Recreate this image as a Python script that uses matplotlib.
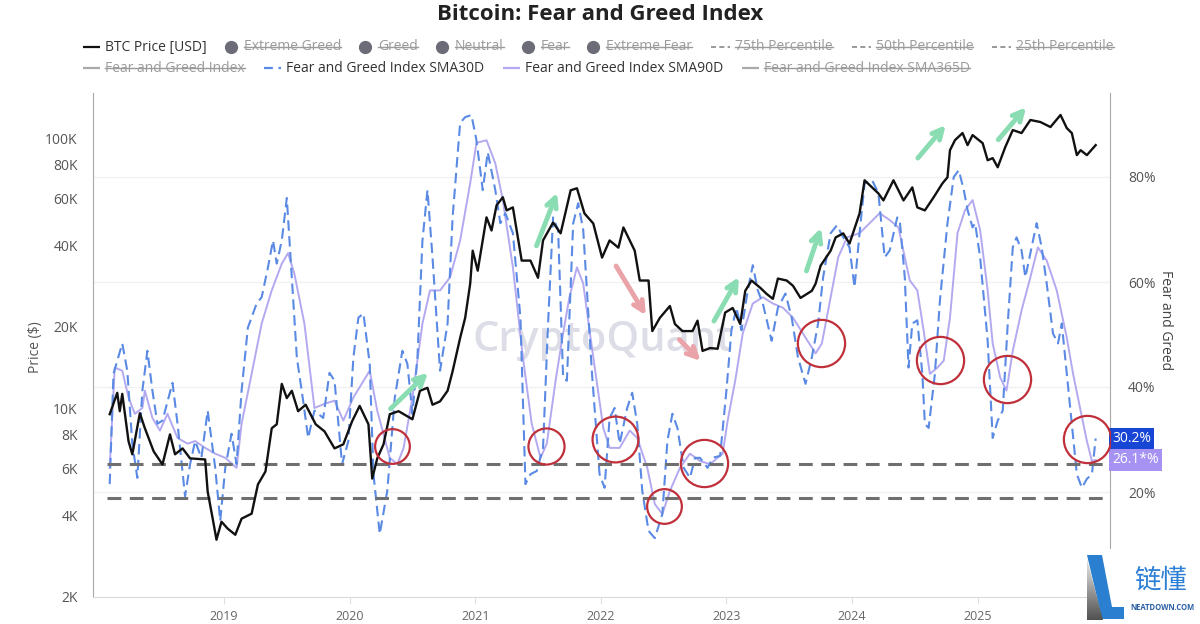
import numpy as np
import matplotlib
matplotlib.use('Agg')
import matplotlib.pyplot as plt
from matplotlib.patches import Polygon, Rectangle
from matplotlib.ticker import NullLocator, FixedLocator, FixedFormatter

plt.rcParams['font.family'] = ['Open Sans', 'DejaVu Sans']

# ---- data (decimal years) ----
btc_t = [2018.09, 2018.15, 2018.17, 2018.19, 2018.24, 2018.27, 2018.33, 2018.37, 2018.44, 2018.51,
         2018.57, 2018.61, 2018.67, 2018.73, 2018.85, 2018.87, 2018.91, 2018.94, 2018.98, 2019.03,
         2019.09, 2019.14, 2019.22, 2019.27, 2019.33, 2019.38, 2019.42, 2019.46, 2019.50, 2019.54,
         2019.59, 2019.65, 2019.73, 2019.80, 2019.88, 2019.95, 2020.02, 2020.08, 2020.15, 2020.18,
         2020.22, 2020.27, 2020.32, 2020.39, 2020.50, 2020.56, 2020.62, 2020.66, 2020.72, 2020.78,
         2020.82, 2020.88, 2020.92, 2020.96, 2020.98, 2021.02, 2021.09, 2021.13, 2021.17, 2021.22,
         2021.25, 2021.30, 2021.37, 2021.44, 2021.50, 2021.54, 2021.62, 2021.68, 2021.76, 2021.81,
         2021.87, 2021.94, 2022.01, 2022.07, 2022.14, 2022.18, 2022.27, 2022.31, 2022.38, 2022.41,
         2022.47, 2022.55, 2022.59, 2022.65, 2022.73, 2022.77, 2022.81, 2022.87, 2022.93, 2022.99,
         2023.05, 2023.11, 2023.15, 2023.20, 2023.27, 2023.32, 2023.37, 2023.41, 2023.48, 2023.53,
         2023.59, 2023.68, 2023.71, 2023.75, 2023.83, 2023.87, 2023.93, 2023.98, 2024.06, 2024.10,
         2024.16, 2024.21, 2024.25, 2024.33, 2024.41, 2024.48, 2024.52, 2024.58, 2024.65, 2024.72,
         2024.76, 2024.78, 2024.82, 2024.88, 2024.92, 2024.96, 2025.04, 2025.08, 2025.12, 2025.16,
         2025.22, 2025.28, 2025.35, 2025.42, 2025.50, 2025.58, 2025.66, 2025.71, 2025.75, 2025.79,
         2025.82, 2025.87, 2025.94]
btc_k = [9.5, 11.4, 9.75, 11.3, 7.54, 6.75, 9.58, 8.43, 6.92, 6.19,
         8.0, 6.75, 7.1, 6.52, 6.46, 4.91, 3.9, 3.26, 3.8, 3.58,
         3.4, 3.9, 4.07, 5.22, 5.83, 8.43, 8.72, 12.3, 10.9, 11.6,
         9.75, 10.3, 8.72, 8.21, 7.1, 7.35, 8.95, 10.2, 8.72, 5.49,
         6.52, 7.35, 9.5, 9.75, 9.1, 11.6, 11.9, 10.3, 10.6, 11.6,
         13.7, 18.2, 21.6, 28.9, 38.3, 32.3, 50.9, 45.5, 56.4, 60.4,
         54.0, 55.4, 35.2, 35.2, 30.4, 41.8, 48.7, 44.4, 64.1, 65.2,
         52.6, 48.3, 36.1, 41.8, 39.3, 46.7, 38.3, 29.7, 29.7, 19.3,
         21.6, 23.9, 20.5, 19.3, 19.3, 21.1, 16.3, 16.7, 16.6, 22.6,
         23.5, 20.5, 27.2, 29.7, 27.9, 26.5, 25.4, 30.2, 29.7, 28.4,
         25.6, 27.2, 28.9, 33.7, 38.3, 42.9, 44.4, 40.7, 52.6, 69.8,
         65.7, 62.4, 58.8, 69.8, 58.8, 65.7, 55.4, 54.0, 60.4, 68.0,
         71.6, 90.2, 98.3, 104.4, 94.2, 102.6, 95.8, 82.8, 84.3, 78.0,
         92.6, 107.1, 104.4, 116.7, 114.7, 109.9, 121.8, 108.9, 104.4, 86.5,
         90.2, 86.5, 94.2]

sma30_t = [2018.09, 2018.12, 2018.19, 2018.23, 2018.27, 2018.31, 2018.35, 2018.39, 2018.43, 2018.47,
           2018.51, 2018.59, 2018.63, 2018.69, 2018.73, 2018.77, 2018.82, 2018.87, 2018.93, 2018.97,
           2019.01, 2019.06, 2019.10, 2019.14, 2019.19, 2019.26, 2019.30, 2019.35, 2019.39, 2019.42,
           2019.46, 2019.50, 2019.54, 2019.58, 2019.63, 2019.67, 2019.72, 2019.79, 2019.84, 2019.88,
           2019.94, 2019.99, 2020.03, 2020.07, 2020.11, 2020.16, 2020.19, 2020.24, 2020.30, 2020.36,
           2020.42, 2020.46, 2020.50, 2020.54, 2020.58, 2020.62, 2020.66, 2020.72, 2020.78, 2020.82,
           2020.88, 2020.92, 2020.97, 2021.01, 2021.06, 2021.10, 2021.16, 2021.20, 2021.24, 2021.30,
           2021.36, 2021.40, 2021.44, 2021.49, 2021.54, 2021.58, 2021.62, 2021.66, 2021.70, 2021.73,
           2021.78, 2021.82, 2021.86, 2021.93, 2021.99, 2022.03, 2022.07, 2022.11, 2022.15, 2022.21,
           2022.25, 2022.29, 2022.33, 2022.38, 2022.43, 2022.49, 2022.53, 2022.57, 2022.61, 2022.66,
           2022.71, 2022.75, 2022.79, 2022.85, 2022.89, 2022.95, 2023.00, 2023.04, 2023.08, 2023.12,
           2023.17, 2023.21, 2023.25, 2023.29, 2023.36, 2023.41, 2023.47, 2023.52, 2023.57, 2023.63,
           2023.68, 2023.73, 2023.77, 2023.83, 2023.88, 2023.93, 2023.98, 2024.02, 2024.06, 2024.10,
           2024.16, 2024.21, 2024.26, 2024.30, 2024.36, 2024.38, 2024.42, 2024.45, 2024.48, 2024.52,
           2024.56, 2024.58, 2024.61, 2024.66, 2024.70, 2024.76, 2024.81, 2024.85, 2024.89, 2024.92,
           2024.96, 2024.98, 2025.02, 2025.08, 2025.12, 2025.16, 2025.20, 2025.24, 2025.28, 2025.31,
           2025.35, 2025.38, 2025.42, 2025.47, 2025.51, 2025.55, 2025.60, 2025.64, 2025.67, 2025.71,
           2025.75, 2025.79, 2025.83, 2025.87, 2025.91, 2025.94]
sma30 = [21.5, 42.5, 48.3, 43.1, 29.2, 22.7, 39.3, 46.9, 39.3, 33.0,
         33.6, 40.8, 33.0, 19.2, 25.3, 29.7, 26.5, 35.5, 24.6, 14.5,
         24.6, 31.1, 25.3, 39.3, 51.3, 55.9, 57.1, 62.8, 67.9, 63.5,
         67.9, 76.0, 60.9, 45.6, 37.4, 30.3, 35.5, 34.1, 42.7, 41.2,
         25.3, 29.7, 45.6, 53.2, 54.0, 44.4, 23.4, 12.0, 20.2, 38.0,
         46.9, 44.4, 34.9, 45.6, 67.9, 77.5, 64.7, 43.1, 52.1, 72.3,
         90.3, 91.4, 91.8, 87.0, 77.5, 84.7, 77.5, 71.2, 73.1, 69.3,
         53.2, 21.5, 23.4, 24.0, 28.4, 52.1, 72.3, 69.9, 41.8, 41.2,
         71.2, 75.0, 69.9, 42.5, 23.4, 20.8, 34.1, 36.0, 29.2, 36.0,
         38.9, 33.0, 20.2, 12.6, 11.2, 15.8, 29.7, 34.9, 32.2, 24.6,
         22.7, 26.5, 26.5, 24.6, 26.5, 26.9, 39.3, 50.8, 55.1, 50.8,
         58.4, 63.2, 58.4, 55.9, 48.8, 55.1, 57.8, 53.2, 45.6, 40.6,
         45.6, 52.1, 60.9, 69.3, 70.8, 68.5, 66.6, 59.0, 69.3, 78.8,
         79.4, 76.9, 64.7, 66.0, 72.3, 71.8, 60.9, 43.7, 52.1, 52.7,
         42.5, 33.0, 32.2, 42.5, 56.5, 71.2, 80.0, 81.3, 77.5, 73.7,
         70.4, 71.2, 64.7, 48.8, 30.3, 33.6, 35.5, 52.1, 66.6, 68.5,
         66.0, 60.9, 65.5, 71.2, 66.6, 59.7, 50.2, 48.3, 52.1, 42.5,
         33.0, 23.4, 20.8, 22.5, 23.4, 30.2]

sma90_t = [2018.09, 2018.13, 2018.19, 2018.24, 2018.29, 2018.35, 2018.37, 2018.43, 2018.49, 2018.55,
           2018.63, 2018.71, 2018.77, 2018.85, 2018.93, 2019.01, 2019.10, 2019.14, 2019.22, 2019.30,
           2019.38, 2019.46, 2019.51, 2019.56, 2019.64, 2019.72, 2019.80, 2019.88, 2019.95, 2020.03,
           2020.16, 2020.22, 2020.32, 2020.38, 2020.43, 2020.50, 2020.58, 2020.64, 2020.72, 2020.80,
           2020.88, 2020.96, 2021.01, 2021.09, 2021.16, 2021.22, 2021.30, 2021.38, 2021.45, 2021.52,
           2021.57, 2021.64, 2021.69, 2021.75, 2021.81, 2021.86, 2021.91, 2021.97, 2022.02, 2022.07,
           2022.15, 2022.23, 2022.29, 2022.37, 2022.43, 2022.49, 2022.55, 2022.63, 2022.71, 2022.79,
           2022.87, 2022.97, 2023.01, 2023.07, 2023.13, 2023.21, 2023.29, 2023.37, 2023.45, 2023.53,
           2023.63, 2023.71, 2023.76, 2023.83, 2023.89, 2023.96, 2024.06, 2024.14, 2024.22, 2024.30,
           2024.37, 2024.42, 2024.46, 2024.52, 2024.57, 2024.62, 2024.68, 2024.73, 2024.78, 2024.84,
           2024.90, 2024.96, 2025.02, 2025.08, 2025.12, 2025.18, 2025.23, 2025.28, 2025.35, 2025.42,
           2025.48, 2025.55, 2025.63, 2025.71, 2025.76, 2025.82, 2025.87, 2025.91, 2025.94]
sma90 = [24.6, 43.7, 43.1, 38.0, 34.9, 36.0, 39.3, 34.1, 31.7, 34.9,
         30.3, 29.2, 29.7, 28.4, 27.3, 26.5, 24.6, 33.0, 42.5, 52.1,
         58.4, 63.5, 65.5, 61.6, 52.1, 36.0, 36.8, 37.4, 33.6, 38.0,
         43.1, 35.5, 26.5, 25.3, 28.4, 38.0, 52.1, 58.4, 58.4, 60.9,
         67.9, 78.8, 86.5, 87.0, 82.6, 75.6, 62.8, 45.6, 33.0, 26.5,
         29.2, 41.2, 48.8, 57.1, 62.8, 59.7, 50.8, 40.6, 32.2, 28.4,
         28.4, 31.7, 30.3, 24.6, 17.7, 15.8, 20.2, 24.6, 27.3, 25.9,
         25.3, 27.3, 33.6, 41.2, 50.2, 55.9, 57.1, 55.9, 55.1, 53.2,
         49.4, 46.4, 48.3, 57.1, 64.7, 68.5, 69.3, 71.2, 73.1, 71.8,
         70.4, 64.7, 60.3, 58.4, 50.8, 42.5, 43.7, 45.0, 53.2, 69.3,
         73.7, 75.6, 69.9, 58.4, 48.3, 41.8, 39.3, 46.9, 54.6, 60.9,
         66.6, 64.1, 58.4, 49.4, 42.5, 35.5, 29.7, 25.9, 26.1]

pct_levels = [25.3, 18.9]
year_ticks = [2019, 2020, 2021, 2022, 2023, 2024, 2025, 2026]
year_labels = ['2019', '2020', '2021', '2022', '2023', '2024', '2025', '2026']
price_ticks = [2000, 4000, 6000, 8000, 10000, 20000, 40000, 60000, 80000, 100000]
price_labels = ['2K', '4K', '6K', '8K', '10K', '20K', '40K', '60K', '80K', '100K']
pct_ticks = [20, 40, 60, 80]
pct_labels = ['20%', '40%', '60%', '80%']

# annotations (decimal year, percent)
green_arrows = [((2020.31, 35.5), (2020.64, 43.1)), ((2021.48, 66.4), (2021.66, 77.5)),
                ((2022.89, 52.1), (2023.11, 61.4)), ((2023.63, 61.6), (2023.76, 70.8)),
                ((2024.51, 83.2), (2024.76, 90.3)), ((2025.15, 86.7), (2025.40, 93.7))]
red_arrows = [((2022.11, 63.5), (2022.37, 53.2)), ((2022.61, 49.4), (2022.81, 44.6))]
circle_t = [2020.34, 2021.56, 2022.11, 2022.50, 2022.82, 2023.75, 2024.70, 2025.23, 2025.87]
circle_pct = [28.8, 28.8, 30.1, 17.3, 25.5, 48.3, 45.2, 41.6, 30.1]
circle_size = [25, 26, 33, 25, 34, 34, 34, 34, 34]

# ---- figure ----
W, H = 1200, 624
fig = plt.figure(figsize=(12, 6.24), dpi=100)
L, R, T, B = 93, 1110, 93, 597
ax = fig.add_axes([L / W, 1 - B / H, (R - L) / W, (B - T) / H])
axp = ax.twinx()

ax.yaxis.tick_right()
axp.yaxis.tick_left()

# fear & greed lines
ax.plot(sma90_t, sma90, color='#b3a9f0', lw=1.4)
ax.plot(sma30_t, sma30, color='#5a8ae4', lw=1.5, dashes=(5, 2.6))
for lv in pct_levels:
    ax.axhline(lv, xmin=0.014, xmax=0.997, color='#6f6f6f', lw=2.2, dashes=(4.5, 2.8))
ax.grid(axis='y', color='#f1f1f1', lw=1)
ax.set_axisbelow(True)

# price
axp.plot(btc_t, np.array(btc_k) * 1000, color='#111111', lw=1.7)

# watermark
ax.text((603 - L) / (R - L), (B - 340) / (B - T), 'CryptoQuant', transform=ax.transAxes,
        fontsize=30, fontweight='semibold', color='#dcdde6', ha='center', va='center', zorder=0)

# arrows and circles on top of price line
for (t0, p0), (t1, p1) in green_arrows:
    axp.annotate('', xy=(t1, p1), xytext=(t0, p0), xycoords=ax.transData, textcoords=ax.transData,
                 arrowprops=dict(arrowstyle='->', color='#8adcb2', lw=3.5, mutation_scale=18))
for (t0, p0), (t1, p1) in red_arrows:
    axp.annotate('', xy=(t1, p1), xytext=(t0, p0), xycoords=ax.transData, textcoords=ax.transData,
                 arrowprops=dict(arrowstyle='->', color='#e9a3a9', lw=3.5, mutation_scale=18))
for t, p, s in zip(circle_t, circle_pct, circle_size):
    axp.plot([t], [p], 'o', ms=s, mfc='none', mec='#c0303a', mew=1.6, transform=ax.transData)

# axes cosmetics
ax.set_xlim(2017.957, 2026.054)
ax.set_ylim(0, 96)
axp.set_yscale('log')
axp.set_ylim(2000, 146900)
axp.yaxis.set_major_locator(FixedLocator(price_ticks))
axp.yaxis.set_major_formatter(FixedFormatter(price_labels))
axp.yaxis.set_minor_locator(NullLocator())
ax.set_yticks(pct_ticks)
ax.set_yticklabels(pct_labels)
ax.set_xticks(year_ticks)
ax.set_xticklabels(year_labels)

ax.tick_params(axis='x', length=5, color='#e0e0e0', labelsize=9, labelcolor='#666', pad=4)
ax.tick_params(axis='y', length=0, labelsize=10, labelcolor='#555', pad=13)
axp.tick_params(axis='y', length=0, labelsize=10, labelcolor='#555', pad=11)

ax.spines['top'].set_visible(False)
for s in axp.spines.values():
    s.set_visible(False)
ax.spines['left'].set_color('#a8a8a8')
ax.spines['right'].set_color('#a8a8a8')
ax.spines['bottom'].set_color('#dadada')

# last value badges
ytr = ax.get_yaxis_transform()
ax.text(1.002, sma30[-1], f'{sma30[-1]:.1f}%', transform=ytr, ha='left', va='center', fontsize=10,
        color='white', bbox=dict(boxstyle='square,pad=0.22', fc='#1746d4', ec='none'), clip_on=False)
ax.text(1.002, sma90[-1], f'{sma90[-1]:.1f}*%', transform=ytr, ha='left', va='center', fontsize=10,
        color='white', bbox=dict(boxstyle='square,pad=0.22', fc='#a592f2', ec='none'), clip_on=False)

# ---- overlay in pixel units: title, legend, axis titles, logo ----
ov = fig.add_axes([0, 0, 1, 1], zorder=10)
ov.set_xlim(0, W)
ov.set_ylim(H, 0)
ov.set_autoscale_on(False)
ov.axis('off')

ov.text(600, 15, 'Bitcoin: Fear and Greed Index', ha='center', va='center',
        fontsize=16, fontweight='bold', color='#222222')
ov.text(35, 347, 'Price ($)', rotation=90, ha='center', va='center', fontsize=10, color='#555')
ov.text(1165, 320, 'Fear and Greed', rotation=270, ha='center', va='center', fontsize=10, color='#444')

renderer = fig.canvas.get_renderer()


def legend_row(y, items):
    x = 83
    for kind, color, label, struck in items:
        if kind == 'line':
            ov.plot([x, x + 17], [y, y], color=color, lw=1.6, solid_capstyle='butt')
            x += 22
        elif kind == 'dash':
            ov.plot([x, x + 17], [y, y], color=color, lw=1.6, dashes=(4, 2.5))
            x += 22
        elif kind == 'dot':
            ov.plot([x + 5], [y], 'o', ms=8.5, color=color)
            x += 18
        elif kind == 'pct':
            ov.plot([x, x + 19], [y, y], color=color, lw=1.2, dashes=(3, 2))
            x += 24
        tc = '#9b9b9b' if struck else '#333333'
        t = ov.text(x, y, label, ha='left', va='center', fontsize=10, color=tc)
        w = t.get_window_extent(renderer).width
        if struck:
            ov.plot([x, x + w], [y - 0.5, y - 0.5], color=tc, lw=1)
        x += w + 19


legend_row(47, [('line', '#111111', 'BTC Price [USD]', False),
                ('dot', '#6c6c78', 'Extreme Greed', True),
                ('dot', '#6c6c78', 'Greed', True),
                ('dot', '#6c6c78', 'Neutral', True),
                ('dot', '#6c6c78', 'Fear', True),
                ('dot', '#6c6c78', 'Extreme Fear', True),
                ('pct', '#888888', '75th Percentile', True),
                ('pct', '#888888', '50th Percentile', True),
                ('pct', '#888888', '25th Percentile', True)])
legend_row(68, [('line', '#aaaaaa', 'Fear and Greed Index', True),
                ('dash', '#5a8ae4', 'Fear and Greed Index SMA30D', False),
                ('line', '#b3a9f0', 'Fear and Greed Index SMA90D', False),
                ('line', '#aaaaaa', 'Fear and Greed Index SMA365D', True)])

# logo
ov.add_patch(Rectangle((1096, 549), 104, 75, fc='white', ec='none'))
ov.add_patch(Rectangle((1084, 549), 14, 45, fc='white', ec='none'))
ov.add_patch(Polygon([(1087, 555), (1102, 555), (1112, 607), (1124, 607), (1124, 619), (1102, 619)],
                     closed=True, fc='#2a7fd0', ec='none'))
tri = Polygon([(1087, 559), (1103, 620), (1087, 620)], closed=True, fc='none', ec='none')
ov.add_patch(tri)
grad = np.linspace(0.2, 0.75, 64)[:, None]
im = ov.imshow(grad, extent=(1087, 1104, 620, 558), origin='upper', cmap='Greys', vmin=0, vmax=1,
               aspect='auto', zorder=2)
im.set_clip_path(tri)
ov.text(1161, 580, '链懂', ha='center', va='center', fontsize=19, color='#2b7fd4',
        family=['Noto Sans CJK SC', 'DejaVu Sans'])
ov.text(1162, 608, 'NEATDOWN.COM', ha='center', va='center', fontsize=5.5, color='#2a5fa5',
        fontweight='bold')
ov.set_xlim(0, W)
ov.set_ylim(H, 0)

fig.savefig('out.png', dpi=100, facecolor='white')
